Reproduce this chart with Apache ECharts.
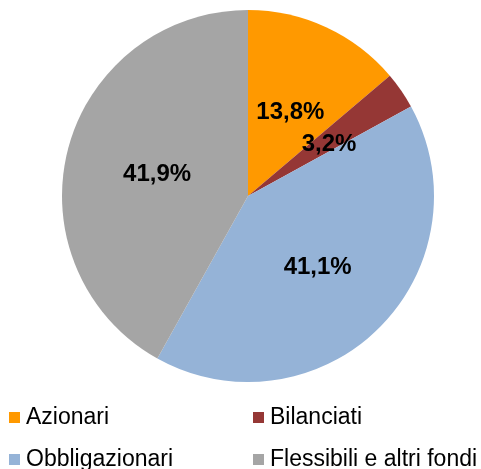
<!DOCTYPE html>
<html>
<head>
<meta charset="utf-8">
<script src="https://cdn.jsdelivr.net/npm/echarts@6/dist/echarts.min.js"></script>
<style>
  html, body { margin: 0; padding: 0; background: #fff; }
  #chart { width: 481px; height: 469px; }
</style>
</head>
<body>
<div id="chart"></div>
<script>
var categories = ["Azionari", "Bilanciati", "Obbligazionari", "Flessibili e altri fondi"];
var values = [13.8, 3.2, 41.1, 41.9];
var colors = ["#FF9900", "#953735", "#95B3D7", "#A5A5A5"];

var chart = echarts.init(document.getElementById("chart"));

var legendBase = {
  orient: "vertical",
  top: 406,
  height: 90,
  padding: 0,
  itemGap: 19,
  itemWidth: 11,
  itemHeight: 11,
  icon: "rect",
  textStyle: {
    fontFamily: "Liberation Sans, Arial",
    fontSize: 23,
    color: "#000",
    padding: [0, 0, 0, 1]
  }
};

var option = {
  animation: false,
  backgroundColor: "#fff",
  color: colors,
  legend: [
    Object.assign({}, legendBase, { left: 9, data: [categories[0], categories[2]] }),
    Object.assign({}, legendBase, { left: 253, data: [categories[1], categories[3]] })
  ],
  series: [
    {
      type: "pie",
      center: [248, 196],
      radius: 186,
      startAngle: 90,
      clockwise: true,
      label: {
        position: "inside",
        offset: [2, 3],
        fontFamily: "Liberation Sans, Arial",
        fontSize: 24,
        fontWeight: "bold",
        color: "#000",
        formatter: function (p) {
          return p.value.toFixed(1).replace(".", ",") + "%";
        }
      },
      labelLine: { show: false },
      emphasis: { disabled: true },
      data: categories.map(function (c, i) {
        return { name: c, value: values[i] };
      })
    }
  ]
};

chart.setOption(option);
</script>
</body>
</html>
